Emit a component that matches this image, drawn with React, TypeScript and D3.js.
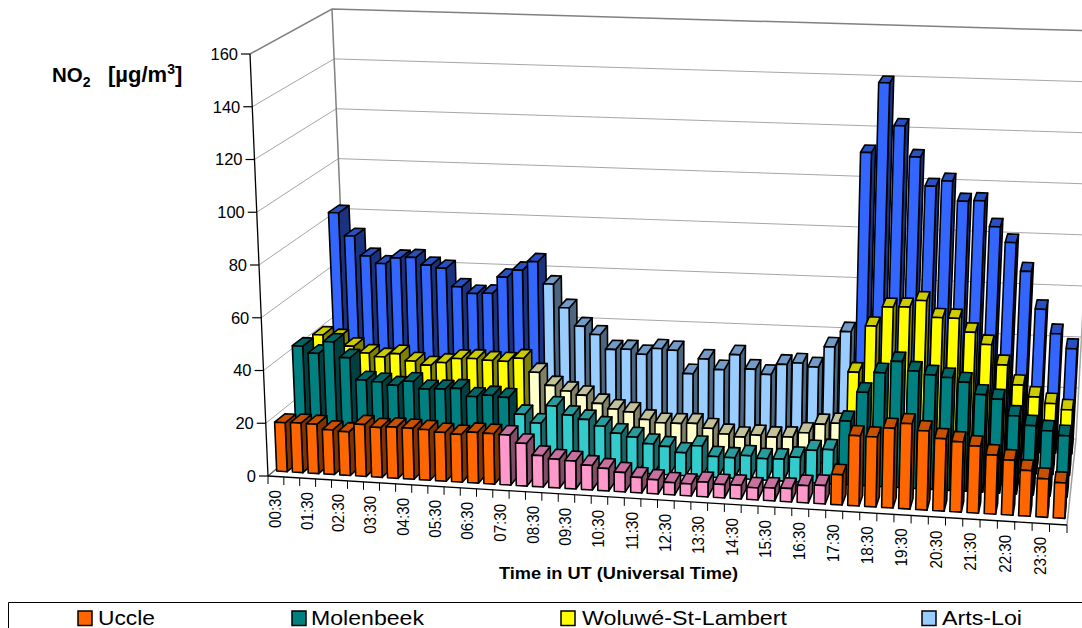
import React from "react";
import * as d3 from "d3";

const categories = Array.from({ length: 24 }, (_, k) => [`${String(k).padStart(2, "0")}:30`, `${String((k + 1) % 24).padStart(2, "0")}:00`]).flat();
const seriesNames = ["Uccle", "Molenbeek", "Woluwé-St-Lambert", "Arts-Loi"];
const uccle = [18.6,18.8,18.7,16.9,16.5,19.6,18.8,19.3,19.2,19,18.3,17.9,19,18.9,18.7,15.9,11.7,10.7,10.4,9.1,8.3,7.2,5.7,5.2,4.5,4.4,5.4,4.9,5,4.4,4.7,4.9,6.3,6.7,11,25.6,25.5,29,31,28.7,26.2,25.4,24.2,21.3,19.8,16.4,13.8,12.7];
const molenbeek = [41.8,39.3,44,38.2,29.9,29.5,28.5,30.3,27.7,28,28.5,25.7,26.5,26,19.9,16.9,23.7,20.5,19.2,17,14.6,13.5,11.3,10.6,8.6,11.5,7.8,7.7,8.8,8,8.2,9.2,12.1,12.7,23.7,34.7,42.3,46.8,43.5,42.4,41.7,40.3,36,34.6,28.8,25.5,23.9,22.4];
const woluwe = [40.1,39.3,36.2,33.8,32.6,34.1,31.5,30.2,31.5,33.3,33.6,33.2,33.1,34.5,29.4,24.6,22.7,21.4,18.5,16.6,15.8,13.2,12.2,12.3,12.6,11,9.1,8.3,9.3,8.9,9.2,11.1,14.7,15.3,35.1,52.9,60.4,60.7,63.4,57.2,57.2,52.2,47.8,40.4,33.1,28.9,26.7,24.6];
const artsLoi = [82.4,73.4,65.7,62.9,65.4,65.8,63,62,54.9,52.5,52.8,59.4,62.4,66,57.4,48.3,41.3,38.3,32.7,33,31.3,33.8,33.4,24.5,30.5,26.6,32.7,27.3,25.5,29.7,30.5,29.2,37.3,43.5,113.4,140.7,124.2,112.3,101.2,103.4,95.8,96.2,86.4,80.5,69.6,55.2,46,40.5];
const seriesValues = [uccle, molenbeek, woluwe, artsLoi];
const yTicks = [0,20,40,60,80,100,120,140,160];
const darkShades = [["#FF6600","#C85000","#803300"],["#008080","#006666","#004040"],["#FFFF00","#CCCC00","#808000"],["#3366FF","#2850C0","#1A3380"]];
const lightShades = [["#FF99CC","#C8709F","#804D66"],["#33CCCC","#269C9C","#1A6666"],["#FFFFCC","#C2C29A","#808066"],["#99CCFF","#729BC8","#4D6680"]];
const legendColors = ["#FF6600","#008080","#FFFF00","#99CCFF"];
const lightStart = 14, lightEnd = 33;

// Projection anchors: floor corners, and the vector from floor to wall top at each corner
const A = [268,476], B = [1067,525], D = [1076,439], C = [349,408];
const upA = [-18,-422], upB = [17,-448], upD = [22,-408], upC = [-17,-399];
const warp = 0.05;

const project = (u:number,v:number,h:number):[number,number] => {
  const w = u - warp*u*(1-u);
  const out = [0,1].map(k => {
    const floor = (1-w)*(1-v)*A[k]+w*(1-v)*B[k]+w*v*D[k]+(1-w)*v*C[k];
    const up = (1-w)*(1-v)*upA[k]+w*(1-v)*upB[k]+w*v*upD[k]+(1-w)*v*upC[k];
    return floor+h*up;
  });
  return [out[0],out[1]];
};
const uScale = d3.scaleBand<string>().domain(categories).range([0,1]).paddingInner(1/3).paddingOuter(1/6);
const vScale = d3.scaleBand<string>().domain(seriesNames).range([0.015,1.015]).paddingInner(0.48).paddingOuter(0.24);
const hScale = d3.scaleLinear().domain([0,160]).range([0,1]);
const line = d3.line();
const poly = (pts:[number,number][]) => line(pts)+"Z";

function Bar({si,ci}:{si:number;ci:number}) {
  const u0 = uScale(categories[ci])!, u1 = u0+uScale.bandwidth();
  const v0 = vScale(seriesNames[si])!, v1 = v0+vScale.bandwidth();
  const h = hScale(seriesValues[si][ci]);
  const shades = (ci>=lightStart && ci<=lightEnd ? lightShades : darkShades)[si];
  const common = {stroke:"#000",strokeWidth:1.6,strokeLinejoin:"round" as const};
  return <g>
    <path d={poly([project(u1,v0,0),project(u1,v1,0),project(u1,v1,h),project(u1,v0,h)])} fill={shades[2]} {...common}/>
    <path d={poly([project(u0,v0,h),project(u1,v0,h),project(u1,v1,h),project(u0,v1,h)])} fill={shades[1]} {...common}/>
    <path d={poly([project(u0,v0,0),project(u1,v0,0),project(u1,v0,h),project(u0,v0,h)])} fill={shades[0]} {...common}/>
  </g>;
}

const font = "'Liberation Sans', Arial, sans-serif";

export default function App() {
  const legendX = [[78,98,57],[292,311,113],[561,582,205],[922,942,80]];
  const rows = [3,2,1,0];
  return <svg width={1082} height={628} style={{position:"absolute",left:0,top:0,background:"#fff"}} fontFamily={font}>
    {yTicks.map(t=>{
      const h = hScale(t);
      const a = project(0,0,h), b = project(0,1,h), c = project(1,1,h);
      return <g key={t}>
        <path d={line([a,b,c])!} fill="none" stroke={t===160?"#808080":"#a6a6a6"} strokeWidth={t===160?1.5:1}/>
      </g>;
    })}
    <path d={line([project(0,1,0),project(0,1,1)])!} stroke="#808080" strokeWidth={1.5} fill="none"/>
    <path d={line([project(1,1,0),project(1,1,1)])!} stroke="#a6a6a6" strokeWidth={1.5} fill="none"/>
    <path d={line([project(1,0,0),project(1,1,0)])!} stroke="#a0a0a0" strokeWidth={1.5} fill="none"/>
    <path d={line([project(0,0,0),project(0,1,0)])!} stroke="#606060" strokeWidth={1.2} fill="none"/>
    {rows.map(si=>categories.map((_,ci)=><Bar key={si+"-"+ci} si={si} ci={ci}/>))}
    <path d={line([project(0,0,0),project(0,0,1)])!} stroke="#000" strokeWidth={1.3} fill="none"/>
    <path d={line([project(0,0,0),project(1,0,0)])!} stroke="#000" strokeWidth={1.3} fill="none"/>
    {yTicks.map(t=>{
      const [x,y] = project(0,0,hScale(t));
      return <g key={t}>
        <line x1={x-9} x2={x} y1={y} y2={y} stroke="#000" strokeWidth={1.2}/>
        <text x={x-12} y={y} dy="0.36em" textAnchor="end" fontSize={16.5} fill="#000">{t}</text>
      </g>;
    })}
    {d3.range(0,49).map(k=>{
      const [x,y] = project(k/48,0,0);
      return <line key={k} x1={x} x2={x} y1={y} y2={y+8} stroke="#000" strokeWidth={1}/>;
    })}
    {categories.map((c,ci)=>{
      if (ci%2) return null;
      const [x,y] = project((ci+0.5)/48,0,0);
      return <text key={c} transform={`translate(${x-1},${y+13.5}) rotate(-90)`} textAnchor="end" dy="0.36em" fontSize={16.5} textLength={38} lengthAdjust="spacingAndGlyphs" fill="#000">{c}</text>;
    })}
    <text x={499} y={579} fontSize={16.5} fontWeight="bold" textLength={239} lengthAdjust="spacingAndGlyphs">Time in UT (Universal Time)</text>
    <text y={82} fontSize={20.5} fontWeight="bold"><tspan x={52}>NO</tspan><tspan dy={5} fontSize={14}>2</tspan><tspan x={108} dy={-5} fontSize={22}>[µg/m</tspan><tspan dy={-8} fontSize={14}>3</tspan><tspan dy={8} fontSize={22}>]</tspan></text>
    <path d="M1082,602.5H8.5V628" fill="none" stroke="#000" strokeWidth={1}/>
    {seriesNames.map((n,i)=><g key={n}>
      <rect x={legendX[i][0]} y={611} width={14} height={14.5} fill={legendColors[i]} stroke="#000" strokeWidth={1.5}/>
      <text x={legendX[i][1]} y={625} fontSize={21} textLength={legendX[i][2]} lengthAdjust="spacingAndGlyphs">{n}</text>
    </g>)}
  </svg>;
}
